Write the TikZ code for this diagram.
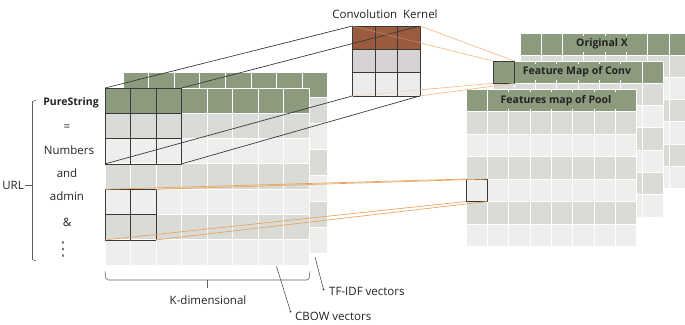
\documentclass[tikz,border=0pt]{standalone}
\usepackage{fontspec}
\setmainfont{Open Sans}
\newfontfamily\symfont{DejaVu Sans}
\usetikzlibrary{calc}

\definecolor{hdr}{HTML}{8C9A7D}
\definecolor{rowdark}{HTML}{D9DBD6}
\definecolor{rowlight}{HTML}{EEEFED}
\definecolor{kbrown}{HTML}{9B5B3F}
\definecolor{kmid}{HTML}{D7D3D3}
\definecolor{klight}{HTML}{EDEBEB}
\definecolor{edge}{HTML}{3A3A3A}
\definecolor{ink}{HTML}{222222}
\definecolor{link}{HTML}{EBA462}
\definecolor{linkpale}{HTML}{F1B57E}

% grid of shaded cells: x0, y0, cell width, row height, columns, rows
\newcommand\cellgrid[6]{%
  \foreach \r in {1,...,#6}{%
    \ifnum\r=1 \def\rc{hdr}\else\ifodd\r\def\rc{rowlight}\else\def\rc{rowdark}\fi\fi
    \foreach \c in {1,...,#5}{%
      \fill[\rc, draw=white, line width=1pt]
        ({#1+(\c-1)*#3},{#2+(\r-1)*#4}) rectangle ++(#3,#4);
    }%
  }%
}

\tikzset{
  txt/.style={font=\fontsize{11.5}{13}\selectfont, text=ink, inner sep=1pt},
  btxt/.style={font=\fontsize{10.5}{12}\selectfont\bfseries, text=ink, inner sep=1pt},
  hdrlabel/.style={btxt, fill=hdr, inner xsep=5pt, inner ysep=3pt},
  frame/.style={draw=edge, line width=0.8pt},
  proj/.style={draw=edge, line width=0.7pt},
  pool/.style={draw=link, line width=0.7pt},
  convlink/.style={draw=linkpale, line width=0.6pt},
  pointer/.style={draw=edge, line width=0.5pt},
  bracket/.style={draw=edge!80, line width=0.6pt},
}

\begin{document}
\begin{tikzpicture}[x=1pt, y=-1pt]
\useasboundingbox (0,0) rectangle (685,324);

% ---- stacked maps on the right ----
\cellgrid{520}{33}{21.3}{22.2}{8}{7}
\cellgrid{493}{61}{21.3}{22.3}{8}{7}
\cellgrid{466}{89}{21.35}{22.5}{8}{7}

% ---- input matrices on the left ----
\cellgrid{123}{72}{25.6}{25.9}{8}{7}
\cellgrid{105}{88}{25.5}{25.3}{8}{7}

% ---- convolution kernel ----
\foreach \r/\kc in {0/kbrown,1/kmid,2/klight}{
  \fill[\kc] (352.5,{26+\r*23.3}) rectangle ++(67.5,23.3);
}
\foreach \i in {0,...,3}{
  \draw[frame] ({352.5+\i*22.5},26) -- ({352.5+\i*22.5},95.9);
  \draw[frame] (352.5,{26+\i*23.3}) -- (420,{26+\i*23.3});
}
\coordinate (kTL) at (352.5,26);
\coordinate (kTR) at (420,26);
\coordinate (kBL) at (352.5,95.9);
\coordinate (kBR) at (420,95.9);

% ---- 3x3 window on the input ----
\foreach \i in {0,...,3}{
  \draw[frame] ({105+\i*25.5},88) -- ({105+\i*25.5},163.9);
  \draw[frame] (105,{88+\i*25.3}) -- (181.5,{88+\i*25.3});
}
\coordinate (wTL) at (105,88);
\coordinate (wTR) at (181.5,88);
\coordinate (wBL) at (105,163.9);
\coordinate (wBR) at (181.5,163.9);

\draw[proj] (wTL) -- (kTL);
\draw[proj] (wTR) -- (kTR);
\draw[proj] (wBL) -- (kBL);
\draw[proj] (wBR) -- (kBR);

% ---- 2x2 pooling window on the input ----
\foreach \i in {0,1,2}{
  \draw[frame] ({105+\i*25.5},189.3) -- ({105+\i*25.5},239.9);
  \draw[frame] (105,{189.3+\i*25.3}) -- (156,{189.3+\i*25.3});
}
\coordinate (pTL) at (105,189.3);
\coordinate (pTR) at (156,189.3);
\coordinate (pBL) at (105,239.9);
\coordinate (pBR) at (156,239.9);

% ---- highlighted output cells ----
\draw[frame] (493,61) rectangle (514.3,83.3);
\coordinate (cTL) at (493,61);
\coordinate (cTR) at (514.3,61);
\coordinate (cBL) at (493,83.3);
\coordinate (cBR) at (514.3,83.3);

\draw[frame] (466,179) rectangle (487.35,201.5);
\coordinate (qTL) at (466,179);
\coordinate (qTR) at (487.35,179);
\coordinate (qBL) at (466,201.5);
\coordinate (qBR) at (487.35,201.5);

% ---- kernel to feature map ----
\coordinate (kTLx) at (intersection of kTL--cTL and kTR--kBR);
\coordinate (kBLx) at (intersection of kBL--cBL and kTR--kBR);
\draw[convlink, densely dotted] (kTL) -- (kTLx);
\draw[convlink] (kTLx) -- (cTL);
\draw[convlink, densely dotted] (kBL) -- (kBLx);
\draw[convlink] (kBLx) -- (cBL);
\draw[convlink] (kTR) -- (cTR);
\draw[convlink] (kBR) -- (cBR);

% ---- pooling window to pooled cell ----
\draw[pool] (pTL) -- (qTL);
\draw[pool] (pTR) -- (qTR);
\draw[pool] (pBL) -- (qBL);
\draw[pool] (pBR) -- (qBR);

% ---- headers ----
\node[hdrlabel] (origx) at (602,44) {Original X};
\node[hdrlabel] (convmap) at (577,72.2) {Feature Map of Conv};
\node[hdrlabel] (poolmap) at (556,100.3) {Features map of Pool};
\node[txt] (kernel) at (385,14) {Convolution\hspace{0.5em}Kernel};

% ---- tokens of the URL ----
\node[btxt] (t1) at (71,103) {PureString};
\node[txt] (t2) at (67,128) {=};
\node[txt] (t3) at (69,150) {Numbers};
\node[txt] (t4) at (67,173) {and};
\node[txt] (t5) at (67,196) {admin};
\node[txt] (t6) at (67,222) {\&};
\node[txt, inner sep=0pt] (t7) at (63,250)
  {\scalebox{1}[1.6]{\symfont\fontsize{12}{12}\selectfont ⋮}};

\node[txt, anchor=east] (url) at (25,185) {URL};
\draw[bracket] (36,100) -- (32.5,101.5) -- (32.5,259.5) -- (36,261);
\draw[bracket] (url.east) -- (32.5,185);

% ---- dimension brace ----
\draw[bracket, rounded corners=2pt] (105,271.5) -- (106,280) -- (309,280) -- (310,271.5);
\coordinate (bmid) at (207.5,280);
\draw[bracket] (bmid) -- ++(0,8);
\node[txt] (kdim) at (208,300.5) {K-dimensional};

% ---- vector pointers ----
\coordinate (cbowfrom) at (276.5,266.5);
\coordinate (cbowto) at (290.5,311.5);
\draw[pointer] (cbowfrom) -- (cbowto);
\fill[edge] (cbowto) circle (1pt);
\node[txt, anchor=west] (cbow) at (294,316) {CBOW vectors};

\coordinate (tfidffrom) at (315,257);
\coordinate (tfidfto) at (323.5,289.5);
\draw[pointer] (tfidffrom) -- (tfidfto);
\fill[edge] (tfidfto) circle (1pt);
\node[txt, anchor=west] (tfidf) at (328,291) {TF-IDF vectors};
\end{tikzpicture}
\end{document}
